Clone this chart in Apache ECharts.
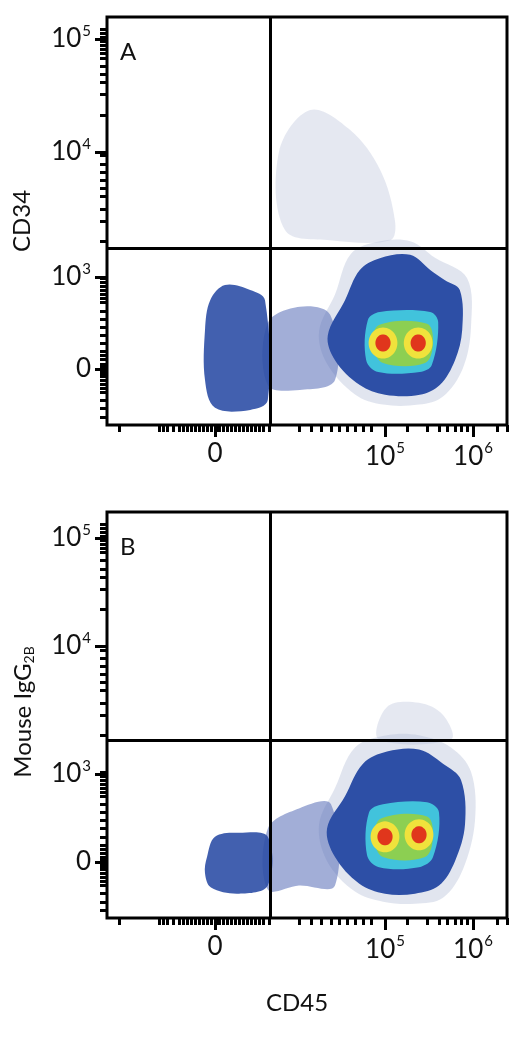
<!DOCTYPE html>
<html><head><meta charset="utf-8">
<script src="https://cdn.jsdelivr.net/npm/echarts@6/dist/echarts.min.js"></script>
<style>html,body{margin:0;padding:0;background:#fff}#c{width:525px;height:1052px}</style>
</head><body><div id="c"></div>
<script>
// axis units: 0..100 in display (biexponential-transformed) space
const xTickVals = [27, 69.5, 91.5];
const xTickLabels = ['0', '10^5', '10^6'];
const yTickValsA = [13.7, 36.3, 66.9, 94.6];
const yTickValsB = [13.8, 35.5, 67.0, 93.6];
const yTickLabels = ['0', '10^3', '10^4', '10^5'];
const xMinorTicks = [3,13,14,15,16.5,18,19,20,21,22,23,24,25,26,27.5,28,29,30,31,32,33,34,35,36,37,38,39,40.5,48,51,53.5,56,58,60,62,64,66,75,80,83,85,87,88.5,90,97.5,100];
const yMinorTicks = [2,4,6,8,9,10,11,12,12.5,13,14,14.5,15,16,17,18,20,22,24,26,28,30,31,32,33,34,35,36,45,50,53,56,58,60,62,64,66,76,81,84,86,88,90,91,92,93,94,95,96,97];
const xGate = 40.75;
const yGateA = 43.4, yGateB = 43.8;

// panel A density regions (x,y in axis units)
const A_cloud = [[43,67],[50.8,77.2],[60.8,72.3],[68.3,62.5],[72,50],[70.8,45.3],[55.8,45.3],[44.5,47.8]];
const A_left = [[25.8,30.6],[29.5,34.3],[35.8,33.1],[39.5,30.6],[40.2,6.1],[35.8,3.7],[27,4.2],[24.5,11],[24.5,23.3]];
const A_bridge = [[40.2,25],[48.2,29],[55.8,27],[57,11],[48.2,8.6],[40.2,9.8]];
const A_halo = [[57,32],[61,42],[68,45],[76,45],[82,41],[90,36],[91,24],[89,14],[84,7],[78,5],[69,5],[62,7.5],[55,15],[53,23]];
const A_main = [[59.5,30.6],[63.2,38],[68.2,40.9],[75.8,41.7],[80.8,38],[84.5,35.5],[88.2,33.1],[88.8,23.3],[87,15.9],[83.2,9.8],[78.2,7.4],[69.5,7.4],[63.2,9.8],[57,15.9],[55.2,22]];
const A_cyan = [[65.2,25.7],[68.2,27.7],[80.8,27.7],[82.8,25.2],[81.2,14.7],[78.2,13],[67.8,13],[64.8,15.9]];
const A_green = [[68,24.5],[80,24.8],[81.5,20],[79.5,15.2],[69,15.2],[66.5,19.5]];
const A_hot = [[69,20.1],[77.8,20.1]];

// panel B density regions
const B_top = [[68,44],[70,52],[78,53],[84,50],[86,44]];
const B_left = [[25,15],[27,20],[33,21],[40.2,20],[40.2,8],[33,6],[26,7.5],[24.5,11]];
const B_bridge = [[40.2,22],[48,27],[56,28],[57,8],[48,8],[40.2,7]];
const B_halo = [[57,32],[62,42],[70,45],[78,45],[86,42],[91,36],[92,24],[89,12],[84,5],[77,3.5],[69,4],[62,6.5],[55,14],[53,23]];
const B_main = [[59.5,30],[64,38],[70,41],[78,41.5],[84,38],[88.5,34],[89.5,23],[87,14],[83,8],[77,6],[69.5,6],[63,8.5],[57,15],[55,22]];
const B_cyan = [[65.5,26],[69,28],[80,28.5],[83,26],[81.5,15],[78,12.5],[68,12.5],[65,15.5]];
const B_green = [[68.5,24.5],[80,25],[81.5,20],[79.5,15],[69,15],[66.8,19.5]];
const B_hot = [[69.5,20],[78,20.5]];

const COL = {sparse:'#b4bed6', halo:'#6478bc', blue:'#2d4fa6', cyan:'#41c3dc', green:'#8ccf52', yellow:'#f0e23c', red:'#e0361c'};

function layers(cloud,left,bridge,halo,main,cyan,green,hot){
  const L=[];
  if(cloud) L.push({p:cloud,c:COL.sparse,o:0.35});
  L.push({p:halo,c:COL.sparse,o:0.4});
  L.push({p:bridge,c:COL.halo,o:0.6});
  L.push({p:left,c:COL.blue,o:0.9});
  L.push({p:main,c:COL.blue,o:1});
  L.push({p:cyan,c:COL.cyan,o:1});
  L.push({p:green,c:COL.green,o:1});
  hot.forEach(h=>L.push({ctr:h,r:[3.6,3.8],c:COL.yellow,o:1}));
  hot.forEach(h=>L.push({ctr:h,r:[1.9,2.1],c:COL.red,o:1}));
  return L;
}
const LA = layers(A_cloud,A_left,A_bridge,A_halo,A_main,A_cyan,A_green,A_hot);
const LB = layers(B_top,B_left,B_bridge,B_halo,B_main,B_cyan,B_green,B_hot);

function render(L){
  return function(params, api){
    const l = L[params.dataIndex];
    let pts;
    if(l.p) pts = l.p.map(v=>api.coord(v));
    else { pts=[]; for(let i=0;i<24;i++){const a=i/24*2*Math.PI; pts.push(api.coord([l.ctr[0]+l.r[0]*Math.cos(a), l.ctr[1]+l.r[1]*Math.sin(a)]));} }
    return {type:'polygon', shape:{points:pts, smooth:0.35}, style:{fill:l.c, opacity:l.o}};
  };
}
const rich = {b:{fontSize:26,color:'#111',fontFamily:'Lato'}, s:{fontSize:15,color:'#111',fontFamily:'Lato',padding:[0,0,16,1]}};
function fmt(vals,labels){return v=>{let i=0,d=1e9;vals.forEach((t,k)=>{if(Math.abs(t-v)<d){d=Math.abs(t-v);i=k;}});const s=labels[i].split('^');return s.length>1?'{b|'+s[0]+'}{s|'+s[1]+'}':'{b|'+s[0]+'}';};}

const grids=[{left:107,top:17,width:400,height:408,show:true,borderColor:'#000',borderWidth:3,z:10},
             {left:107,top:512,width:400,height:406,show:true,borderColor:'#000',borderWidth:3,z:10}];
const xAxes=[],yAxes=[];
[0,1].forEach(g=>{
  xAxes.push({gridIndex:g,type:'value',min:0,max:100,splitLine:{show:false},axisLine:{show:false},
    axisTick:{show:true,customValues:xTickVals,length:12,lineStyle:{color:'#000',width:3}},
    axisLabel:{customValues:xTickVals,formatter:fmt(xTickVals,xTickLabels),rich:rich,fontSize:26,margin:16}});
  xAxes.push({gridIndex:g,type:'value',min:0,max:100,splitLine:{show:false},axisLine:{show:false},position:'bottom',
    axisTick:{show:true,customValues:xMinorTicks,length:7,lineStyle:{color:'#000',width:3}},axisLabel:{show:false}});
  const yv = g===0?yTickValsA:yTickValsB;
  yAxes.push({gridIndex:g,type:'value',min:0,max:100,splitLine:{show:false},axisLine:{show:false},
    axisTick:{show:true,customValues:yv,length:12,lineStyle:{color:'#000',width:3}},
    axisLabel:{customValues:yv,formatter:fmt(yv,yTickLabels),rich:rich,fontSize:26,margin:16}});
  yAxes.push({gridIndex:g,type:'value',min:0,max:100,splitLine:{show:false},axisLine:{show:false},position:'left',
    axisTick:{show:true,customValues:yMinorTicks,length:7,lineStyle:{color:'#000',width:3}},axisLabel:{show:false}});
});
function gate(g,yg){return {type:'line',xAxisIndex:g*2,yAxisIndex:g*2,data:[],z:9,
  markLine:{silent:true,symbol:'none',label:{show:false},lineStyle:{color:'#000',width:3,type:'solid'},
  data:[{xAxis:xGate},{yAxis:yg}]}};}
const option={animation:false,grid:grids,xAxis:xAxes,yAxis:yAxes,
  series:[
    {type:'custom',xAxisIndex:0,yAxisIndex:0,renderItem:render(LA),data:LA.map((l,i)=>i),clip:true},
    {type:'custom',xAxisIndex:2,yAxisIndex:2,renderItem:render(LB),data:LB.map((l,i)=>i),clip:true},
    gate(0,yGateA),gate(1,yGateB)
  ],
  graphic:[
    {type:'text',left:120,top:40,style:{text:'A',fontSize:24,fontFamily:'Lato',fill:'#111'}},
    {type:'text',left:120,top:535,style:{text:'B',fontSize:24,fontFamily:'Lato',fill:'#111'}},
    {type:'text',x:10,y:221,rotation:Math.PI/2,style:{text:'CD34',fontSize:24,fontFamily:'Lato',fill:'#111',align:'center',verticalAlign:'top'}},
    {type:'text',x:10,y:712,rotation:Math.PI/2,style:{text:'{n|Mouse IgG}{sub|2B}',fontSize:24,fontFamily:'Lato',fill:'#111',align:'center',verticalAlign:'top',
      rich:{n:{fontSize:24,fontFamily:'Lato',fill:'#111'},sub:{fontSize:14,fontFamily:'Lato',fill:'#111',padding:[12,0,0,0]}}}},
    {type:'text',x:297,y:1003,style:{text:'CD45',fontSize:24,fontFamily:'Lato',fill:'#111',align:'center',verticalAlign:'middle'}}
  ]};
echarts.init(document.getElementById('c')).setOption(option);
</script></body></html>
